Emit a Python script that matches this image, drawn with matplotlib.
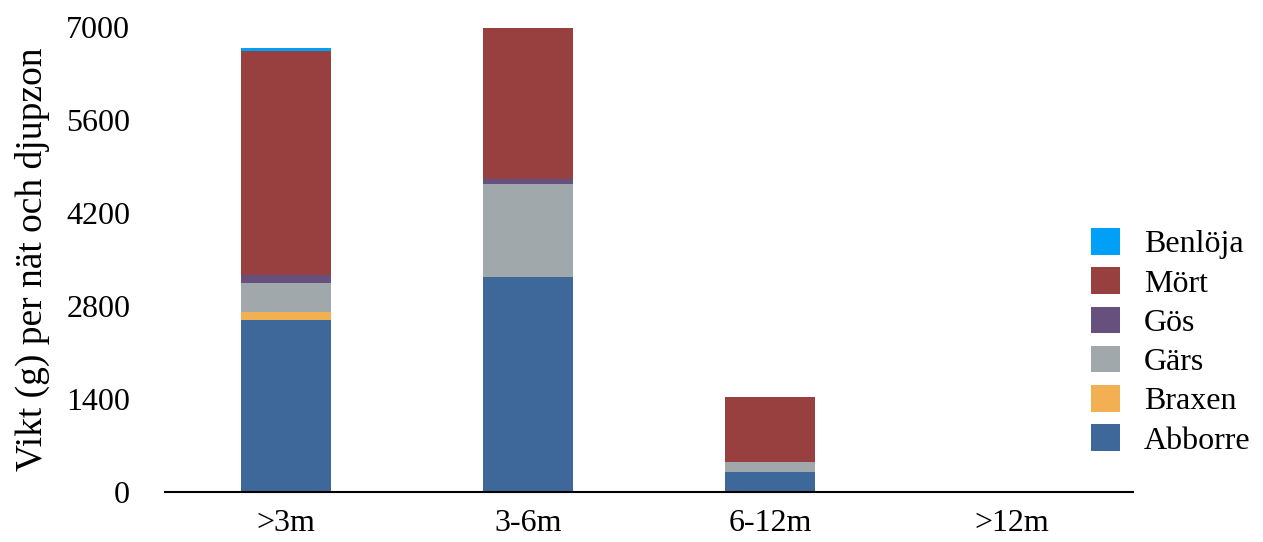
"""Stacked bars of catch weight per net and depth zone, split by species."""

import matplotlib.pyplot as plt
import numpy as np

plt.rcParams["font.family"] = ["Liberation Serif", "DejaVu Serif"]

zones = [">3m", "3-6m", "6-12m", ">12m"]
species = ["Abborre", "Braxen", "Gärs", "Gös", "Mört", "Benlöja"]
abborre = [2590, 3240, 305, 0]
braxen = [125, 0, 0, 0]
gars = [435, 1395, 150, 0]
gos = [115, 75, 0, 0]
mort = [3370, 2280, 980, 0]
benloja = [45, 0, 0, 0]
colors = ["#3E6899", "#F2B052", "#A1A8AB", "#66507E", "#983F3F", "#00A0F8"]

series = [abborre, braxen, gars, gos, mort, benloja]

fig = plt.figure(figsize=(12.63, 5.42), dpi=100)
ax = fig.add_axes([0.1306, 0.0923, 0.7665, 0.8577])

x = np.arange(len(zones))
bottom = np.zeros(len(zones))
handles = []
for name, vals, col in zip(species, series, colors):
    vals = np.array(vals, dtype=float)
    h = ax.bar(x, vals, width=0.37, bottom=bottom, color=col, label=name,
               linewidth=0.0)
    handles.append(h)
    bottom += vals

ax.set_xlim(-0.5, len(zones) - 0.5)
ax.set_ylim(0, 7000)
ax.set_yticks(np.arange(0, 7001, 1400))
ax.set_xticks(x)
ax.set_xticklabels(zones)
ax.tick_params(axis="both", length=0, labelsize=23)
ax.tick_params(axis="x", pad=12)
ax.tick_params(axis="y", pad=25)

for side in ["top", "right", "left"]:
    ax.spines[side].set_visible(False)
ax.spines["bottom"].set_linewidth(1.5)

ax.set_ylabel("Vikt (g) per nät och djupzon", fontsize=27, labelpad=12)

ax.legend(handles[::-1], species[::-1], loc="center left",
          bbox_to_anchor=(0.927, 0.323), frameon=False, fontsize=23,
          handlelength=0.9, handleheight=0.9, handletextpad=0.75,
          labelspacing=0.25)

fig.savefig("out.png", dpi=100)
